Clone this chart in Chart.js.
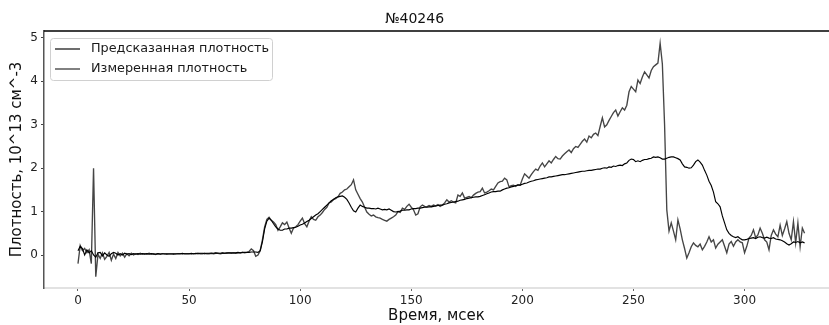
<!DOCTYPE html>
<html>
<head>
<meta charset="utf-8">
<title>№40246</title>
<script src="https://cdn.jsdelivr.net/npm/chart.js@4.4.1/dist/chart.umd.min.js"></script>
<style>
  html, body { margin: 0; padding: 0; background: #fff; }
  #wrap { width: 829px; height: 325px; }
</style>
</head>
<body>
<div id="wrap"><canvas id="density" width="829" height="325"></canvas></div>
<script>
// time, msec (one point per msec)
var timeMs = [];
for (var i = 0; i <= 327; i++) timeMs.push(i);

// predicted density, 10^13 cm^-3
var predicted = [
  0.1, 0.2, 0.15, 0.0, 0.12, 0.05, 0.1, 0.0, -0.05, 0.05,
  0.06, -0.02, 0.05, 0.0, -0.03, 0.03, 0.06, 0.04, 0.0, 0.03,
  0.0, 0.04, 0.02, 0.03, 0.01, 0.03, 0.02, 0.03, 0.02, 0.03,
  0.02, 0.03, 0.02, 0.03, 0.02, 0.02, 0.03, 0.02, 0.03, 0.03,
  0.02, 0.03, 0.03, 0.02, 0.03, 0.03, 0.03, 0.04, 0.03, 0.03,
  0.03, 0.04, 0.03, 0.04, 0.03, 0.04, 0.04, 0.03, 0.04, 0.04,
  0.04, 0.04, 0.05, 0.04, 0.04, 0.05, 0.04, 0.05, 0.05, 0.05,
  0.05, 0.05, 0.06, 0.05, 0.06, 0.06, 0.06, 0.06, 0.07, 0.07,
  0.07, 0.06, 0.1, 0.3, 0.6, 0.78, 0.85, 0.8, 0.72, 0.65,
  0.6, 0.57, 0.57, 0.6, 0.6, 0.62, 0.62, 0.63, 0.64, 0.66,
  0.69, 0.71, 0.74, 0.77, 0.8, 0.84, 0.88, 0.92, 0.95, 1.0,
  1.05, 1.1, 1.15, 1.2, 1.25, 1.28, 1.32, 1.34, 1.35, 1.36,
  1.33, 1.28, 1.2, 1.1, 1.02, 0.99, 1.08, 1.15, 1.12, 1.1,
  1.08, 1.08, 1.07, 1.07, 1.06, 1.08, 1.06, 1.04, 1.05, 1.04,
  1.06, 1.03, 1.0, 0.99, 1.0, 1.01, 1.03, 1.03, 1.04, 1.04,
  1.06, 1.07, 1.07, 1.08, 1.08, 1.09, 1.1, 1.1, 1.11, 1.11,
  1.12, 1.13, 1.14, 1.15, 1.15, 1.17, 1.18, 1.2, 1.21, 1.22,
  1.23, 1.24, 1.26, 1.27, 1.28, 1.3, 1.31, 1.32, 1.33, 1.34,
  1.34, 1.35, 1.37, 1.39, 1.41, 1.43, 1.45, 1.46, 1.46, 1.47,
  1.47, 1.5, 1.52, 1.54, 1.55, 1.57, 1.58, 1.6, 1.61, 1.61,
  1.63, 1.65, 1.66, 1.68, 1.7, 1.71, 1.73, 1.74, 1.75, 1.76,
  1.77, 1.78, 1.8, 1.8, 1.81, 1.82, 1.83, 1.84, 1.85, 1.85,
  1.86, 1.87, 1.88, 1.89, 1.9, 1.91, 1.92, 1.93, 1.93, 1.94,
  1.95, 1.95, 1.96, 1.97, 1.98, 1.98, 2.0, 2.01, 2.0, 2.03,
  2.02, 2.05, 2.04, 2.06, 2.07, 2.06, 2.1, 2.12, 2.18, 2.21,
  2.2, 2.15, 2.17, 2.15, 2.18, 2.2, 2.2, 2.22, 2.23, 2.26,
  2.25, 2.26, 2.24, 2.21, 2.21, 2.23, 2.25, 2.26, 2.26, 2.24,
  2.22, 2.19, 2.1, 2.03, 2.02, 2.0, 2.01, 2.07, 2.15, 2.19,
  2.14, 2.07, 1.95, 1.84, 1.7, 1.6, 1.45, 1.23, 1.18, 1.11,
  0.9, 0.74, 0.58, 0.5, 0.45, 0.42, 0.4, 0.42, 0.38, 0.35,
  0.35, 0.36, 0.38, 0.39, 0.4, 0.38, 0.41, 0.42, 0.4, 0.39,
  0.41, 0.39, 0.38, 0.4, 0.37, 0.36, 0.35, 0.33, 0.3, 0.26,
  0.23, 0.26, 0.3, 0.29, 0.31, 0.28, 0.3, 0.28
];

// measured density, 10^13 cm^-3
var measured = [
  -0.2, 0.22, 0.1, 0.15, 0.05, 0.12, -0.2, 2.0, -0.5, 0.02,
  -0.08, 0.05, -0.1, -0.03, 0.06, -0.12, 0.02, -0.08, 0.06, -0.02,
  0.04, -0.05, 0.03, -0.02, 0.04, 0.0, 0.03, 0.01, 0.04, 0.02,
  0.03, 0.02, 0.04, 0.02, 0.03, 0.01, 0.03, 0.02, 0.03, 0.02,
  0.03, 0.02, 0.02, 0.03, 0.02, 0.03, 0.03, 0.02, 0.03, 0.03,
  0.03, 0.02, 0.03, 0.03, 0.04, 0.03, 0.03, 0.04, 0.03, 0.03,
  0.04, 0.03, 0.04, 0.04, 0.03, 0.04, 0.04, 0.04, 0.05, 0.04,
  0.05, 0.04, 0.05, 0.05, 0.06, 0.05, 0.06, 0.08, 0.14, 0.1,
  -0.03, 0.0, 0.1, 0.35, 0.65, 0.82, 0.87, 0.8, 0.76, 0.7,
  0.57, 0.65, 0.74, 0.7, 0.76, 0.62, 0.5, 0.62, 0.65, 0.7,
  0.78, 0.85, 0.72, 0.65, 0.78, 0.88, 0.82, 0.8, 0.88, 0.92,
  0.98, 1.05, 1.1, 1.2, 1.22, 1.28, 1.3, 1.34, 1.42, 1.45,
  1.5, 1.52, 1.57, 1.62, 1.73, 1.5, 1.4, 1.3, 1.22, 1.1,
  0.99, 0.94, 0.9, 0.92, 0.88, 0.86, 0.85, 0.82, 0.8, 0.78,
  0.82, 0.85, 0.88, 0.92, 1.0, 0.98, 1.08, 1.05, 1.12, 1.17,
  1.1, 1.04, 0.92, 0.95, 1.11, 1.15, 1.12, 1.11, 1.14, 1.12,
  1.15, 1.13, 1.16, 1.12, 1.15, 1.2, 1.27, 1.22, 1.25, 1.22,
  1.2, 1.38, 1.35, 1.43, 1.31, 1.33, 1.35, 1.32, 1.38, 1.42,
  1.45, 1.46, 1.54, 1.43, 1.45, 1.48, 1.52, 1.5, 1.58, 1.66,
  1.69, 1.7, 1.77, 1.73, 1.57, 1.6, 1.61, 1.58, 1.62, 1.61,
  1.75, 1.87, 1.82, 1.77, 1.85, 1.92, 1.98, 1.95, 2.05, 2.12,
  2.03, 2.1, 2.17, 2.12, 2.2, 2.27, 2.22, 2.21, 2.28, 2.33,
  2.38, 2.42, 2.36, 2.45, 2.5, 2.48, 2.55, 2.62, 2.67, 2.6,
  2.74, 2.7, 2.78, 2.81, 2.75, 2.96, 3.16, 2.95, 3.0, 3.1,
  3.19, 3.28, 3.34, 3.2, 3.3, 3.39, 3.34, 3.45, 3.76, 3.88,
  3.82, 3.76, 4.03, 3.95, 4.1, 4.22, 4.15, 4.08, 4.25, 4.34,
  4.38, 4.42, 4.88, 4.4, 3.0, 1.04, 0.55, 0.74, 0.55, 0.35,
  0.81, 0.6, 0.35, 0.15, -0.07, 0.05, 0.19, 0.28, 0.22, 0.19,
  0.25, 0.12, 0.2, 0.3, 0.42, 0.3, 0.35, 0.16, 0.25, 0.3,
  0.35, 0.2, 0.05, 0.25, 0.31, 0.2, 0.3, 0.35, 0.3, 0.28,
  0.05, 0.2, 0.39, 0.45, 0.58, 0.4, 0.46, 0.62, 0.5, 0.35,
  0.3, 0.12, 0.45, 0.58, 0.48, 0.42, 0.69, 0.45, 0.6, 0.77,
  0.5, 0.35, 0.77, 0.28, 0.74, 0.19, 0.62, 0.5
];

var xTicks = [0, 50, 100, 150, 200, 250, 300];
var yTicks = [0, 1, 2, 3, 4, 5];

var FONT = "'DejaVu Sans', sans-serif";

function toPoints(vals) {
  return vals.map(function (v, i) { return { x: timeMs[i], y: v }; });
}

// top spine + legend box in the upper left corner
var framePlugin = {
  id: 'frame',
  afterDraw: function (chart) {
    var ctx = chart.ctx, a = chart.chartArea;
    ctx.save();
    ctx.strokeStyle = '#000';
    ctx.lineWidth = 1.3;
    ctx.beginPath();
    ctx.moveTo(a.left, a.top);
    ctx.lineTo(a.right, a.top);
    ctx.stroke();

    // legend
    var bx = a.left + 6, by = a.top + 7, bw = 222, bh = 42;
    ctx.fillStyle = 'rgba(255,255,255,0.85)';
    ctx.strokeStyle = '#d0d0d0';
    ctx.lineWidth = 1;
    ctx.beginPath();
    ctx.roundRect(bx + 0.5, by + 0.5, bw, bh, 3);
    ctx.fill();
    ctx.stroke();

    ctx.font = '12.8px ' + FONT;
    ctx.textBaseline = 'middle';
    chart.data.datasets.forEach(function (ds, k) {
      var y = by + 11 + k * 20;
      ctx.strokeStyle = ds.borderColor;
      ctx.lineWidth = ds.borderWidth;
      ctx.beginPath();
      ctx.moveTo(bx + 5, y);
      ctx.lineTo(bx + 30, y);
      ctx.stroke();
      ctx.fillStyle = '#1a1a1a';
      ctx.fillText(ds.label, bx + 41, y);
    });
    ctx.restore();
  }
};

new Chart(document.getElementById('density'), {
  type: 'line',
  data: {
    datasets: [{
      label: 'Предсказанная плотность',
      data: toPoints(predicted),
      borderColor: '#000000',
      borderWidth: 1.15
    }, {
      label: 'Измеренная плотность',
      data: toPoints(measured),
      borderColor: '#454545',
      borderWidth: 1.35
    }]
  },
  options: {
    responsive: false,
    animation: false,
    events: [],
    layout: { padding: 0 },
    elements: {
      point: { radius: 0 },
      line: { tension: 0 }
    },
    plugins: {
      legend: { display: false },
      tooltip: { enabled: false },
      title: {
        display: true,
        text: '№40246',
        color: '#111',
        font: { family: FONT, size: 14, weight: 'normal' },
        padding: { top: 11, bottom: 3.2 }
      }
    },
    scales: {
      x: {
        type: 'linear',
        min: -15.3,
        max: 338,
        afterBuildTicks: function (s) { s.ticks = xTicks.map(function (v) { return { value: v }; }); },
        afterFit: function (s) { s.height = 37; },
        grid: { display: true, drawOnChartArea: false, drawTicks: true, tickLength: 3, color: '#666', lineWidth: 1 },
        border: { display: true, color: '#e2e2e2', width: 2 },
        ticks: { color: '#222', padding: 3, maxRotation: 0, font: { family: FONT, size: 12 } },
        title: {
          display: true,
          text: 'Время, мсек',
          color: '#111',
          font: { family: FONT, size: 15 },
          padding: { top: 0, bottom: 0 }
        }
      },
      y: {
        type: 'linear',
        min: -0.76,
        max: 5.16,
        afterBuildTicks: function (s) { s.ticks = yTicks.map(function (v) { return { value: v }; }); },
        afterFit: function (s) { s.width = 44; },
        grid: { display: true, drawOnChartArea: false, drawTicks: true, tickLength: 3, color: '#444', lineWidth: 1 },
        border: { display: true, color: '#555', width: 1.5 },
        ticks: { color: '#222', padding: 3, font: { family: FONT, size: 12 } },
        title: {
          display: true,
          text: 'Плотность, 10^13 см^-3',
          color: '#111',
          font: { family: FONT, size: 15 },
          padding: { top: 8, bottom: 0 }
        }
      }
    }
  },
  plugins: [framePlugin]
});
</script>
</body>
</html>
